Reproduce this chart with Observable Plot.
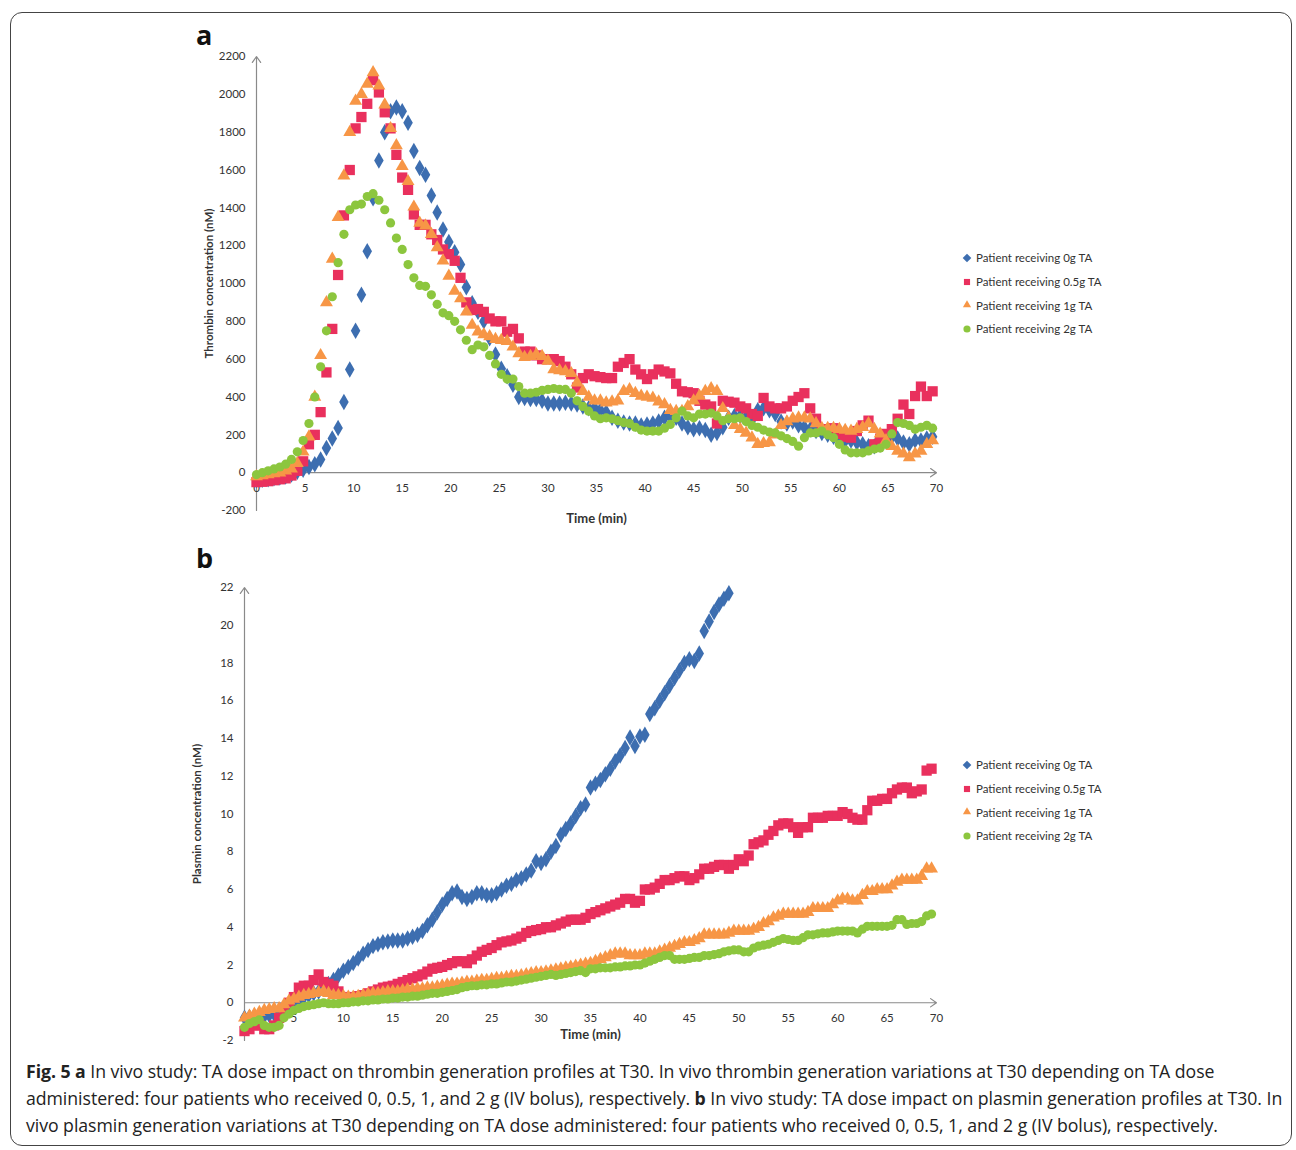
<!DOCTYPE html>
<html>
<head>
<meta charset="utf-8">
<script src="https://cdn.jsdelivr.net/npm/d3@7"></script>
<script src="https://cdn.jsdelivr.net/npm/@observablehq/plot@0.6"></script>
<style>
  body { margin: 0; background: #fff; font-family: Lato, sans-serif; }
  #page { position: relative; width: 1296px; height: 1150px; }
  #box { position: absolute; left: 10px; top: 12px; width: 1282px; height: 1134px; border: 1.5px solid #444; border-radius: 12px; box-sizing: border-box; }
  .panel { position: absolute; left: 0; }
  .letter { position: absolute; font: bold 27px "Open Sans", sans-serif; color: #111; }
  .legend { position: absolute; font: 11.5px Lato, sans-serif; color: #333; }
  .legend div { height: 23.7px; display: flex; align-items: center; gap: 4px; }
  .legend svg { width: 10px; height: 10px; }
  #caption { position: absolute; left: 26px; top: 1058px; font: 17.7px "Open Sans", sans-serif; letter-spacing: -0.05px; color: #222; line-height: 27px; white-space: nowrap; }
  svg [aria-label="y-axis label"] { font-weight: bold; }
</style>
</head>
<body>
<div id="page">
  <div id="box"></div>
  <div class="letter" style="left:196px;top:16px">a</div>
  <div class="letter" style="left:196px;top:539px">b</div>
  <div id="panelA" class="panel" style="top:20px"></div>
  <div id="panelB" class="panel" style="top:560px"></div>
  <div id="legendA" class="legend" style="left:962px;top:246px"></div>
  <div id="legendB" class="legend" style="left:962px;top:753px"></div>
  <div id="caption"><b>Fig. 5 a</b> In vivo study: TA dose impact on thrombin generation profiles at T30. In vivo thrombin generation variations at T30 depending on TA dose<br>administered: four patients who received 0, 0.5, 1, and 2 g (IV bolus), respectively. <b>b</b> In vivo study: TA dose impact on plasmin generation profiles at T30. In<br>vivo plasmin generation variations at T30 depending on TA dose administered: four patients who received 0, 0.5, 1, and 2 g (IV bolus), respectively.</div>
</div>
<script>
// series labels and styles
const seriesNames = ["Patient receiving 0g TA", "Patient receiving 0.5g TA", "Patient receiving 1g TA", "Patient receiving 2g TA"];
const seriesColors = ["#3d6eb0", "#e9305d", "#f79646", "#8cc63e"];
const seriesSymbols = ["diamond", "square", "triangle", "circle"];
const seriesSizes = [5, 5.8, 4.8, 4.6];

// panel a: thrombin (nM), one reading every 0.6 min
const stepA = 0.6;
const thrombin0g = [-40,-38,-35,-30,-25,-20,-10,5,15,30,
  45,70,130,180,236,373,545,750,940,1170,
  1450,1650,1800,1910,1930,1910,1850,1700,1610,1575,
  1465,1375,1285,1220,1165,1100,980,895,850,800,
  710,625,550,510,465,400,395,390,390,380,
  365,365,365,370,365,360,350,340,340,330,
  320,290,275,265,260,260,250,255,260,270,
  290,300,290,260,240,230,235,225,200,210,
  240,290,300,300,290,280,330,340,330,310,
  270,260,270,250,240,230,220,210,200,190,
  180,170,170,160,150,140,140,150,170,190,
  180,160,150,170,170,180,190];
const thrombin05g = [-50,-48,-45,-40,-35,-30,-15,10,60,150,
  200,320,530,760,1045,1360,1600,1820,1880,1950,
  2075,2010,1905,1820,1680,1560,1495,1365,1310,1310,
  1260,1230,1180,1155,1120,1030,900,860,865,850,
  815,800,800,745,760,710,640,640,620,600,
  600,600,590,560,520,450,500,520,510,505,
  500,500,560,580,600,545,520,495,520,545,
  535,525,470,430,425,420,380,360,350,260,
  380,375,370,350,340,310,300,395,350,340,
  340,350,380,400,420,340,285,230,230,235,
  205,190,185,220,250,275,150,180,205,230,
  285,360,310,405,455,405,430];
const thrombin1g = [-20,-15,-10,-5,0,10,20,50,110,190,
  400,620,900,1130,1350,1570,1800,1965,2000,2055,
  2115,2045,1945,1820,1730,1620,1540,1405,1320,1305,
  1260,1190,1120,1040,960,920,850,780,745,730,
  720,705,700,695,665,630,610,615,625,615,
  590,545,540,535,525,475,430,400,380,380,
  370,375,380,430,440,420,405,400,395,375,
  360,330,325,325,350,380,405,430,445,430,
  340,290,250,230,210,185,150,155,160,200,
  250,270,285,290,290,285,260,235,235,235,
  230,225,220,230,240,260,230,205,170,140,
  115,100,80,100,115,150,170];
const thrombin2g = [-10,0,10,20,30,45,70,110,170,260,
  400,560,750,930,1110,1260,1390,1415,1420,1460,
  1475,1440,1390,1320,1240,1180,1100,1030,990,985,
  940,890,845,830,800,755,700,650,675,665,
  620,575,520,495,495,455,420,420,425,435,
  440,445,440,440,420,380,350,325,300,285,
  290,285,275,265,260,240,225,220,220,220,
  235,255,290,325,300,290,310,310,315,300,
  275,285,285,290,270,250,240,225,215,210,
  195,180,165,140,185,210,210,220,200,185,
  150,120,105,105,105,115,125,130,150,205,
  265,260,250,230,240,250,235];

// panel b: plasmin (nM), one reading every 0.5 min
const stepB = 0.5;
const plasmin0g = [-0.8,-0.75,-0.7,-0.7,-0.7,-0.65,-0.6,-0.5,-0.3,-0.15,
  0,0.15,0.3,0.4,0.5,0.6,0.8,1.0,1.2,1.45,
  1.7,1.9,2.1,2.35,2.6,2.8,3.0,3.1,3.2,3.25,
  3.3,3.3,3.3,3.4,3.5,3.6,3.8,4.1,4.4,4.8,
  5.2,5.5,5.8,5.9,5.6,5.5,5.6,5.8,5.8,5.7,
  5.7,5.8,6.0,6.2,6.3,6.5,6.6,6.8,7.0,7.5,
  7.4,7.6,8.0,8.3,8.9,9.2,9.5,9.9,10.3,10.5,
  11.4,11.6,11.8,12.1,12.4,12.8,13.1,13.5,14.05,13.6,
  14.1,14.2,15.3,15.6,16.0,16.4,16.8,17.2,17.6,18.0,
  18.2,18.1,18.5,19.7,20.2,20.7,21.1,21.4,21.7];
const plasmin05g = [-1.5,-1.4,-1.2,-1.2,-1.4,-1.4,-1.2,-0.8,-0.3,0.0,
  0.3,0.8,0.9,0.9,1.2,1.5,1.1,1.0,0.9,0.6,
  0.3,0.3,0.3,0.35,0.4,0.5,0.6,0.7,0.8,0.85,
  0.9,1.0,1.1,1.2,1.3,1.4,1.5,1.65,1.8,1.85,
  1.9,2.0,2.1,2.2,2.2,2.1,2.3,2.5,2.7,2.8,
  2.9,3.05,3.2,3.25,3.3,3.4,3.5,3.7,3.8,3.85,
  3.9,4.0,4.0,4.1,4.2,4.3,4.4,4.4,4.4,4.5,
  4.7,4.8,4.9,5.0,5.1,5.2,5.3,5.5,5.5,5.3,
  5.4,6.0,6.0,6.1,6.3,6.5,6.5,6.6,6.7,6.7,
  6.5,6.6,6.8,7.1,7.1,7.2,7.3,7.3,7.1,7.3,
  7.6,7.5,7.8,8.4,8.5,8.6,8.9,9.1,9.4,9.5,
  9.5,9.3,9.0,9.3,9.3,9.8,9.8,9.8,9.9,9.9,
  9.9,10.1,10.0,9.8,9.7,9.7,10.2,10.7,10.7,10.8,
  10.8,11.1,11.3,11.4,11.4,11.1,11.2,11.3,12.3,12.4];
const plasmin1g = [-0.8,-0.7,-0.6,-0.5,-0.4,-0.35,-0.3,-0.3,-0.1,0.1,
  0.2,0.3,0.4,0.45,0.5,0.55,0.6,0.5,0.4,0.4,
  0.35,0.3,0.3,0.35,0.4,0.45,0.5,0.5,0.55,0.6,
  0.6,0.6,0.65,0.7,0.7,0.75,0.75,0.8,0.8,0.85,
  0.9,0.95,1.0,1.0,1.05,1.1,1.1,1.15,1.2,1.2,
  1.25,1.3,1.3,1.35,1.4,1.4,1.45,1.5,1.55,1.6,
  1.6,1.65,1.7,1.75,1.8,1.85,1.9,1.95,2.0,2.05,
  2.1,2.2,2.3,2.4,2.5,2.6,2.6,2.6,2.5,2.5,
  2.5,2.6,2.6,2.6,2.7,2.8,2.9,3.0,3.1,3.2,
  3.2,3.3,3.4,3.6,3.6,3.6,3.6,3.6,3.7,3.8,
  3.8,3.8,3.8,3.9,4.0,4.2,4.3,4.5,4.6,4.7,
  4.7,4.7,4.7,4.7,4.8,5.0,5.0,5.0,5.0,5.2,
  5.4,5.5,5.5,5.4,5.4,5.7,5.9,5.9,6.0,6.0,
  6.0,6.2,6.4,6.5,6.5,6.5,6.5,6.7,7.1,7.1];
const plasmin2g = [-1.3,-1.1,-1.0,-0.9,-1.2,-1.3,-1.3,-1.2,-0.8,-0.6,
  -0.4,-0.3,-0.2,-0.15,-0.1,-0.05,0,-0.05,-0.05,-0.05,
  0,0,0.05,0.05,0.1,0.1,0.15,0.15,0.2,0.2,
  0.25,0.25,0.3,0.3,0.35,0.35,0.4,0.45,0.5,0.5,
  0.55,0.6,0.65,0.7,0.8,0.85,0.9,0.9,0.95,0.95,
  1.0,1.0,1.05,1.1,1.1,1.15,1.2,1.25,1.3,1.35,
  1.4,1.45,1.5,1.45,1.5,1.55,1.6,1.65,1.7,1.6,
  1.8,1.8,1.85,1.85,1.85,1.9,1.9,1.95,1.95,2.0,
  2.0,2.1,2.2,2.3,2.4,2.5,2.5,2.3,2.3,2.3,
  2.35,2.4,2.4,2.5,2.5,2.55,2.6,2.7,2.75,2.8,
  2.8,2.7,2.7,2.9,3.0,3.05,3.1,3.2,3.3,3.4,
  3.35,3.3,3.3,3.45,3.6,3.6,3.65,3.7,3.7,3.75,
  3.8,3.8,3.8,3.8,3.7,3.9,4.05,4.05,4.05,4.05,
  4.05,4.1,4.4,4.4,4.15,4.2,4.2,4.3,4.6,4.7];

// axes
const xDomain = [0, 70];
const xTicks = [0, 5, 10, 15, 20, 25, 30, 35, 40, 45, 50, 55, 60, 65, 70];
const yDomainA = [-200, 2200];
const yTicksA = d3.range(-200, 2201, 200);
const yDomainB = [-2, 22];
const yTicksB = d3.range(-2, 23, 2);

function rows(values, step) {
  return values.map((v, i) => ({t: +(i * step).toFixed(2), v}));
}

function panel({series, step, yDomain, yTicks, yLabel, height, marginTop, marginBottom, marginLeft, xLabelDy}) {
  const axisColor = "#8a8a8a";
  return Plot.plot({
    width: 1296, height, marginTop, marginBottom, marginLeft, marginRight: 360,
    style: {fontFamily: "Lato, sans-serif", fontSize: "11px", color: "#333", background: "transparent"},
    x: {type: "linear", domain: xDomain, axis: null},
    y: {type: "linear", domain: yDomain, axis: null},
    marks: [
      Plot.axisY(yTicks, {tickSize: 0, tickPadding: 11, tickFormat: d => String(d), label: yLabel, labelAnchor: "center", labelArrow: "none", labelOffset: 52, fontSize: 11.5}),
      Plot.arrow([0], {x1: 0, x2: 0, y1: yDomain[0], y2: yDomain[1], stroke: axisColor, strokeWidth: 1.2, headLength: 9, headAngle: 70}),
      Plot.arrow([0], {x1: xDomain[0], x2: xDomain[1], y1: 0, y2: 0, stroke: axisColor, strokeWidth: 1.2, headLength: 9, headAngle: 70}),
      Plot.text(xTicks, {x: d => d, y: 0, dy: 16, fill: "#333", fontSize: 11.5}),
      Plot.text(["Time (min)"], {frameAnchor: "bottom", dy: xLabelDy, fontWeight: "bold", fontSize: 13, fill: "#333"}),
      ...series.map((vals, i) => Plot.dot(rows(vals, step), {
        x: "t", y: "v", symbol: seriesSymbols[i], fill: seriesColors[i], r: seriesSizes[i], stroke: "none"
      }))
    ]
  });
}

document.getElementById("panelA").append(panel({
  series: [thrombin0g, thrombin05g, thrombin1g, thrombin2g], step: stepA,
  yDomain: yDomainA, yTicks: yTicksA, yLabel: "Thrombin concentration (nM)",
  height: 530, marginTop: 36, marginBottom: 40, marginLeft: 256, xLabelDy: 12
}));
document.getElementById("panelB").append(panel({
  series: [plasmin0g, plasmin05g, plasmin1g, plasmin2g], step: stepB,
  yDomain: yDomainB, yTicks: yTicksB, yLabel: "Plasmin concentration (nM)",
  height: 490, marginTop: 27, marginBottom: 10, marginLeft: 244, xLabelDy: -2
}));

function legend(id) {
  const el = document.getElementById(id);
  seriesNames.forEach((name, i) => {
    const row = document.createElement("div");
    const sym = d3.symbol(i === 0 ? d3.symbolDiamond2 : i === 1 ? d3.symbolSquare2 : i === 2 ? d3.symbolTriangle2 : d3.symbolCircle, i === 3 ? 40 : 48)();
    row.innerHTML = `<svg viewBox="-5 -5 10 10"><path d="${sym}" fill="${seriesColors[i]}"/></svg><span>${name}</span>`;
    el.append(row);
  });
}
legend("legendA");
legend("legendB");
</script>
</body>
</html>
